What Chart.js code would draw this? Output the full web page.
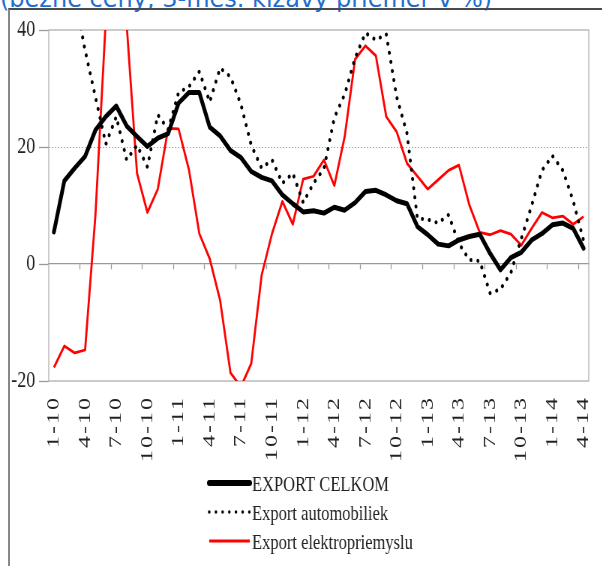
<!DOCTYPE html>
<html lang="sk">
<head>
<meta charset="utf-8">
<script src="https://cdn.jsdelivr.net/npm/chart.js@4.4.1/dist/chart.umd.min.js"></script>
<style>
  html, body { margin: 0; padding: 0; background: #fff; overflow: hidden; }
  body { width: 602px; height: 566px; position: relative; }
  #nadpis { position: absolute; left: 0; top: -13.5px; font-family: "DejaVu Sans", sans-serif; font-size: 24px; line-height: 24px; color: #1f6fd0; white-space: nowrap; }
  #ram { position: absolute; left: 8px; top: 8px; right: 0; bottom: -4px; border-top: 2px solid #4a4a4a; border-left: 2px solid #888; }
  /* graf je v zdroji vodorovne stlaceny, preto kreslime sirsie a zuzime */
  #obal { position: absolute; left: 0; top: 0; width: 803px; height: 566px; transform: scaleX(0.75); transform-origin: 0 0; }
</style>
</head>
<body>
<div id="nadpis">(bežné ceny, 3-mes. kĺzavý priemer v %)</div>
<div id="ram"></div>
<div id="obal"><canvas id="graf" width="803" height="566"></canvas></div>
<script>
const mesiace = [
  "1-10", "2-10", "3-10", "4-10", "5-10", "6-10", "7-10", "8-10", "9-10", "10-10", "11-10", "12-10",
  "1-11", "2-11", "3-11", "4-11", "5-11", "6-11", "7-11", "8-11", "9-11", "10-11", "11-11", "12-11",
  "1-12", "2-12", "3-12", "4-12", "5-12", "6-12", "7-12", "8-12", "9-12", "10-12", "11-12", "12-12",
  "1-13", "2-13", "3-13", "4-13", "5-13", "6-13", "7-13", "8-13", "9-13", "10-13", "11-13", "12-13",
  "1-14", "2-14", "3-14", "4-14"
];

const exportCelkom = [
  5.5, 14.2, 16.4, 18.4, 22.9, 25.2, 27.0, 23.6, 21.8, 20.1, 21.5, 22.3,
  27.5, 29.3, 29.3, 23.4, 21.9, 19.4, 18.2, 15.8, 14.8, 14.2, 11.8, 10.3,
  8.9, 9.1, 8.7, 9.7, 9.2, 10.5, 12.4, 12.6, 11.8, 10.8, 10.3, 6.4,
  5.0, 3.4, 3.1, 4.1, 4.7, 5.1, 1.8, -1.0, 1.1, 2.0, 4.1, 5.2,
  6.7, 7.0, 6.1, 2.7
];

const exportAutomobiliek = [
  60, 54, 46, 36.5, 28.5, 20.5, 25.2, 17.8, 20.3, 16.6, 25.5, 23.0,
  29.3, 30.3, 32.9, 27.7, 33.5, 32.0, 27.3, 20.3, 16.4, 17.8, 13.8, 15.5,
  10.5, 13.8, 16.3, 25.0, 29.0, 35.2, 39.5, 38.3, 39.3, 28.6, 22.3, 7.8,
  7.6, 7.0, 8.4, 3.5, 0.7, 0.5, -5.0, -4.3, -1.5, 4.3, 10.0, 16.0,
  18.5, 16.0, 10.8, 4.0
];

const exportElektro = [
  -17.7, -14.0, -15.2, -14.7, 8.5, 42, 48, 41, 15.5, 8.8, 12.8, 23.2,
  23.1, 16.1, 5.2, 0.9, -6.2, -18.6, -21, -17.0, -1.9, 5.2, 10.7, 6.8,
  14.5, 15.0, 17.8, 13.4, 21.8, 35.0, 37.3, 35.6, 25.2, 22.6, 17.2, 15.0,
  12.8, 14.4, 16.0, 16.9, 10.1, 5.4, 5.0, 5.7, 5.1, 3.2, 6.1, 8.8,
  7.9, 8.2, 6.8, 8.1
];

const osY = [-20, 0, 20, 40];

// --- ramik okolo plochy grafu ---
const ramPlugin = {
  id: "ramik",
  beforeDraw(chart) {
    // riedke pismo len pre popisy mesiacov (kreslia sa pred datami)
    chart.ctx.letterSpacing = "2px";
  },
  beforeDatasetsDraw(chart) {
    const { ctx, chartArea: a } = chart;
    ctx.letterSpacing = "0px";
    ctx.save();
    ctx.strokeStyle = "#b0b0b0";
    ctx.lineWidth = 1.3;
    ctx.strokeRect(a.left, a.top, a.right - a.left, a.bottom - a.top);
    ctx.restore();
  }
};

// --- legenda pod sebou ---
const legendaPlugin = {
  id: "legenda",
  afterDraw(chart) {
    const ctx = chart.ctx;
    const riadky = [483, 512, 541];
    chart.data.datasets.forEach((ds, i) => {
      const y = riadky[i];
      ctx.save();
      ctx.strokeStyle = ds.borderColor;
      ctx.lineWidth = ds.legendWidth || ds.borderWidth;
      ctx.lineCap = ds.borderCapStyle || "butt";
      ctx.setLineDash(ds.legendDash || []);
      ctx.beginPath();
      ctx.moveTo(279, y);
      ctx.lineTo(333, y);
      ctx.stroke();
      ctx.setLineDash([]);
      ctx.fillStyle = "#222";
      ctx.font = '22px "Liberation Serif"';
      ctx.textBaseline = "alphabetic";
      ctx.fillText(ds.label, 336, y + 7.5);
      ctx.restore();
    });
  }
};

// bez okrajov od popisov, plocha grafu ma presne miesto
const bezOkrajov = s => {
  s.paddingLeft = 0;
  s.paddingRight = 0;
  s.paddingTop = 0;
  s.paddingBottom = 0;
};

new Chart(document.getElementById("graf"), {
  type: "line",
  data: {
    labels: mesiace,
    datasets: [
      {
        label: "EXPORT CELKOM",
        data: exportCelkom,
        borderColor: "#000",
        borderWidth: 5,
        borderJoinStyle: "round",
        borderCapStyle: "round",
        legendWidth: 6,
        pointRadius: 0,
        tension: 0,
        clip: 0,
        xAxisID: "x"
      },
      {
        label: "Export automobiliek",
        data: exportAutomobiliek,
        borderColor: "#000",
        borderWidth: 4,
        borderCapStyle: "round",
        borderDash: [0.01, 9.3],
        legendWidth: 3.5,
        legendDash: [0.01, 8.9],
        pointRadius: 0,
        tension: 0,
        clip: 0,
        xAxisID: "x"
      },
      {
        label: "Export elektropriemyslu",
        data: exportElektro,
        borderColor: "#ff0000",
        borderWidth: 2.8,
        borderJoinStyle: "round",
        pointRadius: 0,
        tension: 0,
        clip: 0,
        xAxisID: "x"
      }
    ]
  },
  options: {
    responsive: false,
    animation: false,
    devicePixelRatio: 1,
    layout: { padding: { left: 0, right: 18, top: 30, bottom: 100 } },
    plugins: {
      legend: { display: false },
      tooltip: { enabled: false }
    },
    scales: {
      x: {
        type: "category",
        offset: true,
        grid: { display: false, drawTicks: false },
        border: { display: false },
        ticks: {
          autoSkip: false,
          minRotation: 90,
          maxRotation: 90,
          padding: 15,
          color: "#222",
          font: { family: '"Liberation Serif"', size: 24 },
          callback: (v, i) => (i % 3 === 0 ? mesiace[i] : "")
        },
        afterFit: s => { s.height = 85; bezOkrajov(s); }
      },
      x0: {
        type: "category",
        axis: "x",
        position: { y: 0 },
        offset: true,
        ticks: { display: false },
        grid: {
          offset: true,
          drawOnChartArea: false,
          drawTicks: true,
          tickLength: 5,
          tickWidth: 1.3,
          tickColor: c => (c.index > 0 && c.index % 3 === 0 ? "#999" : "rgba(0,0,0,0)")
        },
        border: { display: true, color: "#999", width: 1.3 },
        afterFit: bezOkrajov
      },
      y: {
        min: osY[0],
        max: osY[osY.length - 1],
        afterBuildTicks: s => { s.ticks = osY.map(v => ({ value: v })); },
        ticks: {
          z: 1,
          padding: 5,
          color: "#222",
          font: { family: '"Liberation Serif"', size: 24 }
        },
        grid: {
          color: c => (c.tick && c.tick.value === 20 ? "#a8a8a8" : "rgba(0,0,0,0)"),
          tickLength: 13,
          tickColor: "#999",
          tickWidth: 1.3
        },
        border: { display: false, dash: [2, 2] },
        afterFit: s => { s.width = 65; bezOkrajov(s); }
      }
    }
  },
  plugins: [ramPlugin, legendaPlugin]
});
</script>
</body>
</html>
